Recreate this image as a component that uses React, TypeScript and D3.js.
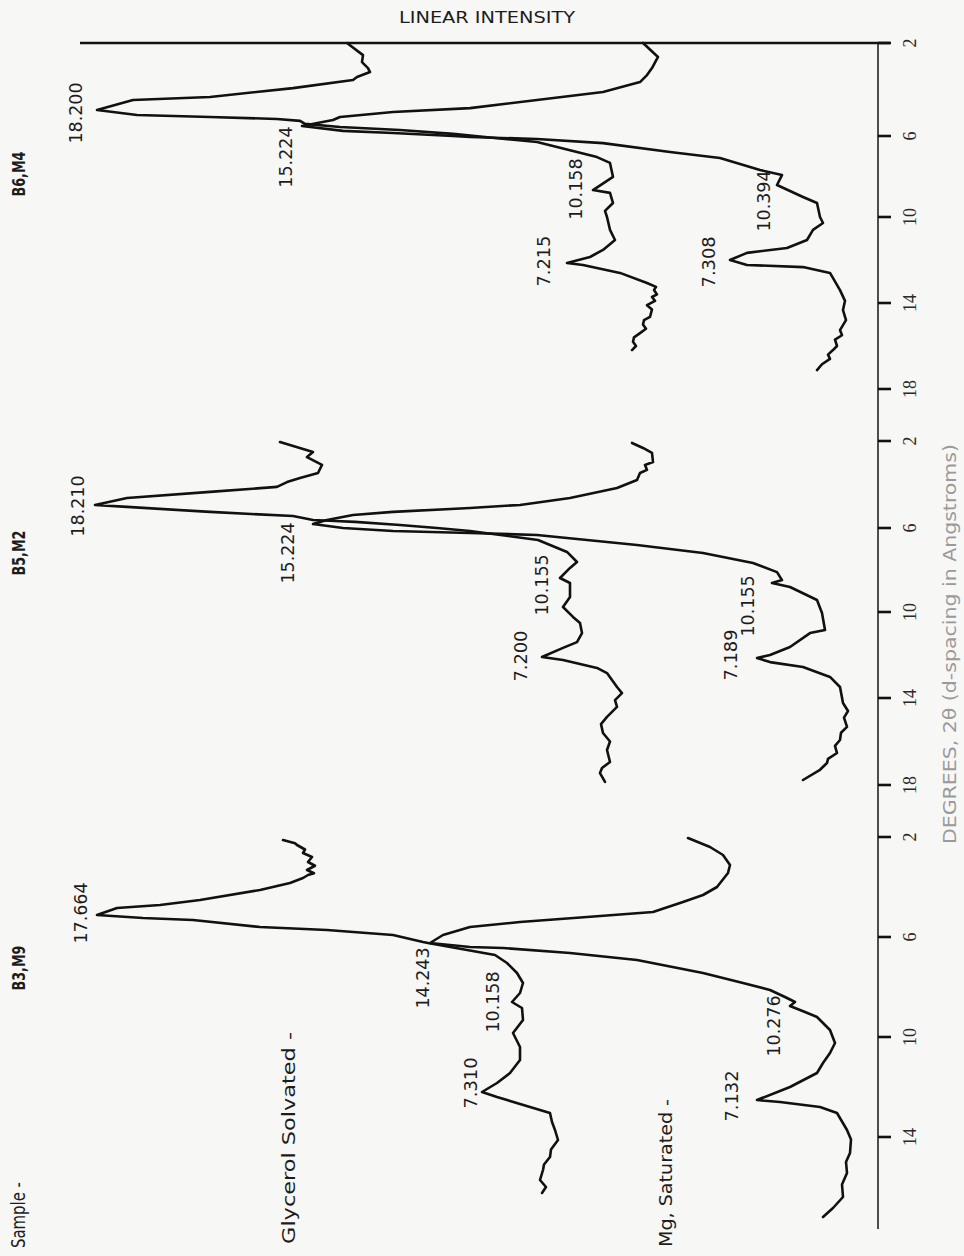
import React from "react";
import * as d3 from "d3";

// ---- data (2θ in degrees, relative linear intensity) ----
const samples = ["B6,M4", "B5,M2", "B3,M9"];
const segTicks = [
  [2, 6, 10, 14, 18],
  [2, 6, 10, 14, 18],
  [2, 6, 10, 14],
];

const b6Glycerol: [number, number][] = [
  [2.0, 53.3], [2.52, 51.7], [2.82, 51.8], [3.08, 51.2], [3.25, 51.0], [3.46, 52.3], [3.59, 52.7],
  [3.94, 58.7], [4.32, 67.0], [4.45, 74.7], [4.88, 78.3], [5.1, 74.3], [5.18, 67.0], [5.27, 60.3],
  [5.35, 58.0], [5.48, 57.5], [5.61, 54.0], [5.74, 48.0], [5.91, 42.7], [6.3, 34.3], [7.04, 28.3],
  [7.33, 27.0], [8.02, 26.7], [8.67, 28.7], [8.81, 27.0], [9.31, 26.7], [9.7, 27.5], [10.0, 27.3],
  [10.6, 27.0], [11.07, 26.5], [11.53, 27.7], [11.86, 29.0], [12.14, 31.3], [12.23, 29.7], [12.6, 26.0],
  [13.07, 23.3], [13.25, 22.4], [13.4, 22.6], [13.6, 22.3], [13.72, 22.8], [13.9, 22.5], [14.1, 23.3],
  [14.3, 22.8], [14.65, 23.0], [14.8, 23.6], [15.0, 23.7], [15.2, 23.4], [15.4, 24.0], [15.6, 24.6],
  [15.8, 24.7], [16.0, 24.4], [16.19, 24.8],
];
const b6Mg: [number, number][] = [
  [2.0, 23.7], [2.6, 22.2], [3.08, 22.8], [3.38, 23.3], [3.68, 24.0], [4.11, 27.7], [4.45, 34.3],
  [4.8, 41.0], [4.97, 48.7], [5.18, 54.0], [5.31, 54.7], [5.57, 57.8], [5.78, 53.7], [5.87, 48.7],
  [6.0, 42.7], [6.05, 41.0], [6.15, 34.3], [6.35, 27.7], [6.79, 21.0], [7.09, 16.0], [7.68, 12.0],
  [7.93, 9.8], [8.42, 10.3], [9.01, 7.7], [9.31, 6.3], [10.0, 6.0], [10.28, 5.7], [10.6, 6.7],
  [11.07, 7.3], [11.44, 9.3], [11.67, 13.3], [12.0, 15.0], [12.23, 13.3], [12.33, 7.7], [12.6, 5.0],
  [13.4, 4.0], [13.9, 3.5], [14.33, 3.7], [14.8, 3.4], [15.26, 4.0], [15.5, 3.8], [15.7, 4.5],
  [16.0, 4.3], [16.19, 4.7], [16.4, 5.2], [16.6, 5.0], [16.85, 5.8], [17.12, 6.3],
];
const b5Glycerol: [number, number][] = [
  [2.05, 60.0], [2.51, 56.7], [2.74, 57.3], [3.1, 55.8], [3.47, 56.2], [3.7, 58.0], [3.89, 59.3],
  [4.11, 60.3], [4.34, 67.0], [4.62, 75.3], [4.94, 78.5], [5.03, 75.3], [5.26, 67.0], [5.45, 58.7],
  [5.63, 56.7], [5.68, 54.5], [5.72, 52.5], [5.86, 48.0], [6.0, 44.3], [6.14, 41.0], [6.57, 34.2],
  [7.14, 31.3], [7.62, 30.3], [7.9, 31.0], [8.38, 32.0], [8.62, 31.0], [9.29, 31.0], [9.76, 31.7],
  [10.23, 30.7], [10.51, 30.0], [10.98, 29.8], [11.4, 30.3], [11.67, 31.7], [12.09, 33.8], [12.23, 31.7],
  [12.6, 28.3], [12.84, 27.3], [13.49, 26.3], [13.77, 25.8], [14.1, 26.5], [14.41, 26.3], [14.87, 27.3],
  [15.2, 27.9], [15.61, 27.7], [16.0, 27.0], [16.39, 27.3], [16.94, 27.0], [17.22, 27.8], [17.45, 28.0],
  [17.86, 27.5],
];
const b5Mg: [number, number][] = [
  [2.09, 24.8], [2.32, 23.7], [2.55, 22.8], [2.97, 22.7], [3.1, 23.5], [3.33, 23.3], [3.47, 24.0],
  [3.79, 24.3], [4.16, 26.3], [4.62, 31.0], [4.94, 36.0], [5.08, 41.0], [5.26, 48.7], [5.4, 52.7],
  [5.63, 55.3], [5.82, 56.7], [6.0, 53.7], [6.14, 48.7], [6.24, 41.0], [6.33, 34.3], [6.57, 29.3],
  [6.81, 24.3], [7.19, 17.7], [7.67, 12.7], [8.1, 10.3], [8.48, 9.8], [8.62, 10.8], [8.81, 9.0],
  [9.43, 6.3], [10.05, 5.8], [10.84, 5.5], [10.98, 7.0], [11.63, 9.0], [12.0, 11.0], [12.14, 12.3],
  [12.33, 11.0], [12.56, 7.7], [13.02, 5.0], [13.49, 4.0], [14.23, 3.7], [14.6, 3.2], [14.9, 3.6],
  [15.33, 3.3], [15.6, 3.9], [15.93, 4.0], [16.2, 4.5], [16.53, 4.3], [16.8, 5.2], [16.99, 5.3],
  [17.3, 6.0], [17.77, 7.7],
];
const b3Glycerol: [number, number][] = [
  [2.12, 59.7], [2.25, 58.5], [2.32, 58.3], [2.5, 57.5], [2.64, 57.7], [2.8, 56.8], [3.0, 57.2],
  [3.15, 56.5], [3.32, 57.3], [3.45, 56.6], [3.52, 57.2], [3.64, 57.7], [3.84, 59.0], [4.12, 62.0],
  [4.52, 68.0], [4.72, 72.0], [4.84, 76.3], [5.12, 78.3], [5.24, 73.7], [5.32, 68.7], [5.6, 62.0],
  [5.72, 55.3], [5.92, 48.7], [6.2, 45.7], [6.24, 45.2], [6.72, 38.5], [7.04, 37.3], [7.44, 36.3],
  [7.84, 35.7], [8.24, 36.0], [8.6, 36.8], [8.84, 35.8], [9.32, 35.7], [9.84, 36.7], [10.4, 36.0],
  [10.92, 36.0], [11.44, 37.0], [11.84, 38.3], [12.2, 39.8], [12.4, 38.3], [12.8, 35.0], [13.04, 33.0],
  [13.4, 32.8], [13.72, 32.5], [14.12, 32.2], [14.5, 32.9], [14.8, 33.0], [15.1, 33.6], [15.32, 33.7],
  [15.72, 34.0], [16.0, 33.4], [16.24, 33.8],
];
const b3Mg: [number, number][] = [
  [2.04, 19.2], [2.4, 17.0], [2.72, 15.7], [3.12, 15.0], [3.44, 15.2], [4.0, 16.3], [4.32, 17.7],
  [4.6, 19.7], [5.0, 22.7], [5.2, 29.3], [5.4, 36.0], [5.6, 41.0], [5.92, 43.7], [6.24, 45.0],
  [6.4, 41.0], [6.44, 37.7], [6.64, 31.0], [6.92, 24.3], [7.44, 17.7], [7.84, 13.7], [8.12, 11.0],
  [8.4, 9.5], [8.6, 8.5], [8.76, 9.0], [9.0, 7.5], [9.2, 6.3], [9.72, 5.0], [10.24, 4.5], [10.64, 5.0],
  [11.04, 5.7], [11.44, 6.3], [12.0, 9.0], [12.52, 12.3], [12.6, 10.0], [12.8, 6.0], [13.04, 4.3],
  [13.72, 3.3], [14.1, 2.9], [14.64, 3.0], [15.0, 3.4], [15.44, 3.3], [15.9, 3.8], [16.4, 3.7],
  [16.84, 4.7], [17.2, 5.7],
];

// peak annotations: [d-spacing text, 2θ at label centre, intensity at label centre]
const b6Peaks: [string, number, number][] = [
  ["18.200", 5.01, 80.5], ["15.224", 7.04, 59.5], ["10.158", 8.62, 30.5],
  ["7.215", 12.05, 33.7], ["10.394", 9.21, 11.7], ["7.308", 12.09, 17.2],
];
const b5Peaks: [string, number, number][] = [
  ["18.210", 4.99, 80.3], ["15.224", 7.19, 59.3], ["10.155", 8.71, 33.9],
  ["7.200", 12.05, 36.0], ["10.155", 9.71, 13.3], ["7.189", 12.0, 15.0],
];
const b3Peaks: [string, number, number][] = [
  ["17.664", 5.04, 80.0], ["14.243", 7.64, 45.8], ["10.158", 8.6, 38.8],
  ["7.310", 11.84, 41.0], ["10.276", 9.56, 10.7], ["7.132", 12.36, 14.9],
];

const FONT = "'DejaVu Sans Condensed', 'Liberation Sans Narrow', sans-serif";

function RText(props: {
  x: number; y: number; text: string; size: number; len?: number;
  family?: string; fill?: string; weight?: string;
}) {
  const { x, y, text, size, len, family = FONT, fill = "#1c1c1c", weight = "normal" } = props;
  return (
    <text
      transform={`translate(${x},${y}) rotate(-90)`}
      textAnchor="middle"
      dominantBaseline="central"
      fontFamily={family}
      fontSize={size}
      fontWeight={weight}
      fill={fill}
      textLength={len}
      lengthAdjust={len ? "spacingAndGlyphs" : undefined}
    >
      {text}
    </text>
  );
}

export default function App() {
  const W = 964;
  const H = 1256;
  const axisX = 878;
  const x = d3.scaleLinear().domain([0, 80]).range([880, 80]);

  const segRanges = [
    [43, 136, 217, 303, 389],
    [441, 528, 612, 698, 785],
    [837, 937, 1037, 1137, 1237],
  ];
  const sampleY = [174, 553, 968];
  const series = [
    { gly: b6Glycerol, mg: b6Mg, peaks: b6Peaks },
    { gly: b5Glycerol, mg: b5Mg, peaks: b5Peaks },
    { gly: b3Glycerol, mg: b3Mg, peaks: b3Peaks },
  ];

  return (
    <svg
      width={W}
      height={H}
      viewBox={`0 0 ${W} ${H}`}
      style={{ position: "absolute", left: 0, top: 0, background: "#f7f7f5" }}
    >
      <rect x={0} y={0} width={W} height={H} fill="#f7f7f5" />

      {/* top baseline (intensity axis) */}
      <line x1={80} y1={43} x2={890} y2={43} stroke="#111" strokeWidth={2.6} />
      {/* 2θ axis */}
      <line x1={axisX} y1={43} x2={axisX} y2={1229} stroke="#222" strokeWidth={1.6} />

      <text
        x={487}
        y={18}
        textAnchor="middle"
        dominantBaseline="central"
        fontFamily={FONT}
        fontSize={15}
        fill="#1c1c1c"
        textLength={176}
        lengthAdjust="spacingAndGlyphs"
      >
        LINEAR INTENSITY
      </text>

      {series.map((s, i) => {
        const y = d3.scaleLinear().domain([2, 6, 10, 14, 18]).range(segRanges[i]);
        const line = d3
          .line<[number, number]>()
          .x((d) => x(d[1]))
          .y((d) => y(d[0]));
        return (
          <g key={i}>
            {segTicks[i].map((t) => (
              <g key={t}>
                <line x1={axisX} x2={891} y1={y(t)} y2={y(t)} stroke="#111" strokeWidth={2.6} />
                <RText
                  x={910}
                  y={y(t)}
                  text={String(t)}
                  size={18}
                  family="'Liberation Serif', 'DejaVu Serif', serif"
                  fill="#2a2a2a"
                />
              </g>
            ))}
            <path d={line(s.gly) || ""} fill="none" stroke="#111" strokeWidth={2.6} strokeLinejoin="round" strokeLinecap="round" />
            <path d={line(s.mg) || ""} fill="none" stroke="#111" strokeWidth={2.6} strokeLinejoin="round" strokeLinecap="round" />
            {s.peaks.map(([label, tt, inten], k) => (
              <RText
                key={k}
                x={x(inten)}
                y={y(tt)}
                text={label}
                size={18}
                len={label.length * 10.2}
              />
            ))}
            <RText x={18} y={sampleY[i]} text={samples[i]} size={18} len={45} weight="bold" />
          </g>
        );
      })}

      <RText x={18} y={1215} text="Sample -" size={19} len={66} />
      <RText x={288} y={1138} text="Glycerol Solvated -" size={18} len={212} />
      <RText x={665} y={1173} text="Mg, Saturated -" size={18} len={148} />
      <RText
        x={950}
        y={644}
        text="DEGREES, 2θ (d-spacing in Angstroms)"
        size={17}
        len={400}
        fill="#9a9a9a"
      />
    </svg>
  );
}
